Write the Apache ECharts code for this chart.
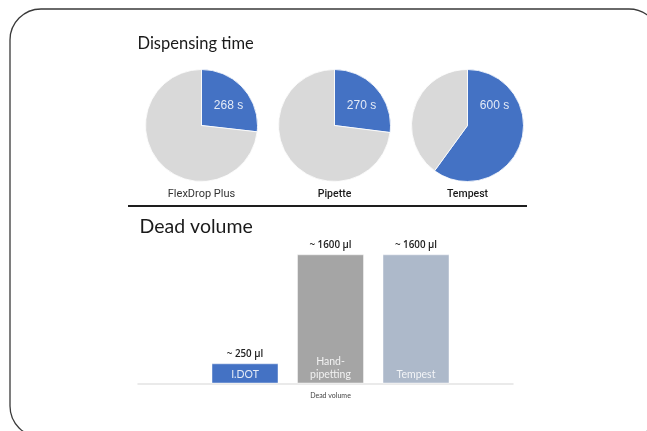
<!DOCTYPE html>
<html>
<head>
<meta charset="utf-8">
<script src="https://cdn.jsdelivr.net/npm/echarts@6/dist/echarts.min.js"></script>
<style>
  html, body { margin: 0; padding: 0; background: #ffffff; }
  #chart { width: 647px; height: 431px; }
</style>
</head>
<body>
<div id="chart"></div>
<script>
// Dispensing time per instrument (seconds) and the remaining part of each pie
const timeNames = ['FlexDrop Plus', 'Pipette', 'Tempest'];
const timeValues = [268, 270, 600];
const timeRest = [732, 730, 400];

// Dead volume per method (µl)
const volumeNames = ['I.DOT', 'Hand-pipetting', 'Tempest'];
const volumeValues = [250, 1600, 1600];
const volumeLabels = ['~ 250 µl', '~ 1600 µl', '~ 1600 µl'];

const BLUE = '#4472c4';
const PIE_GRAY = '#d9d9d9';
const barColors = [BLUE, '#a5a5a5', '#adb9ca'];

const pieCenters = [[201.5, 125.5], [334.5, 125.5], [467.5, 125.5]];
const nameFonts = [
  { fontFamily: 'Roboto', fontWeight: 'normal', color: '#333', fontSize: 11 },
  { fontFamily: 'Roboto', fontWeight: 500, color: '#1a1a1a', fontSize: 10.5 },
  { fontFamily: 'Roboto', fontWeight: 500, color: '#1a1a1a', fontSize: 10.5 }
];

const chart = echarts.init(document.getElementById('chart'), null, { renderer: 'canvas' });

const pieSeries = timeNames.map((name, i) => ({
  type: 'pie',
  center: pieCenters[i],
  radius: 56,
  startAngle: 90,
  clockwise: true,
  silent: true,
  animation: false,
  labelLine: { show: false },
  itemStyle: { borderColor: '#ffffff', borderWidth: 0.8 },
  // value labels sit on one common line in the upper right of each pie
  labelLayout: function () {
    return { x: pieCenters[i][0] + 27, y: 106, align: 'center', verticalAlign: 'middle' };
  },
  data: [
    {
      name: name,
      value: timeValues[i],
      itemStyle: { color: BLUE },
      label: {
        show: true,
        position: 'inner',
        formatter: '{c} s',
        color: 'rgba(255,255,255,0.85)',
        fontFamily: 'Liberation Sans',
        fontSize: 12
      }
    },
    {
      name: name + ' rest',
      value: timeRest[i],
      itemStyle: { color: PIE_GRAY },
      label: { show: false }
    }
  ]
}));

const titles = [
  {
    text: 'Dispensing time',
    left: 137.5, top: 35, padding: 0,
    textStyle: { fontFamily: 'Lato', fontWeight: 'normal', fontSize: 16.5, color: '#1a1a1a' }
  },
  {
    text: 'Dead volume',
    left: 139.5, top: 217, padding: 0,
    textStyle: { fontFamily: 'Lato', fontWeight: 'normal', fontSize: 19.5, color: '#1a1a1a' }
  }
].concat(timeNames.map((name, i) => ({
  text: name,
  left: pieCenters[i][0],
  top: 188.5,
  padding: 0,
  textAlign: 'center',
  textStyle: nameFonts[i]
})));

chart.setOption({
  animation: false,
  backgroundColor: '#ffffff',
  title: titles,
  graphic: [
    {
      type: 'rect',
      shape: { x: 10, y: 9, width: 650, height: 428, r: 31 },
      style: { fill: 'none', stroke: '#3a3a3a', lineWidth: 1.3 },
      silent: true
    },
    {
      type: 'line',
      shape: { x1: 128, y1: 206, x2: 527, y2: 206 },
      style: { stroke: '#1e1e1e', lineWidth: 2 },
      silent: true
    }
  ],
  grid: [
    { left: 202.25, width: 256.5, top: 254.3, bottom: 47.5 },
    { left: 138, right: 134, top: 254.3, bottom: 47.5 }
  ],
  xAxis: [
    {
      type: 'category',
      gridIndex: 0,
      data: volumeNames,
      axisLine: { show: false },
      axisTick: { show: false },
      axisLabel: { show: false },
      name: 'Dead volume',
      nameLocation: 'middle',
      nameGap: 9,
      nameTextStyle: { fontFamily: 'Lato', fontSize: 7, color: '#444' }
    },
    {
      type: 'value',
      gridIndex: 1,
      min: 0, max: 1,
      axisLine: { show: true, lineStyle: { color: '#e3e3e3', width: 1.5 } },
      axisTick: { show: false },
      axisLabel: { show: false },
      splitLine: { show: false }
    }
  ],
  yAxis: [
    { type: 'value', gridIndex: 0, min: 0, max: 1600, show: false },
    { type: 'value', gridIndex: 1, min: 0, max: 1, show: false }
  ],
  series: pieSeries.concat([
    {
      type: 'bar',
      xAxisIndex: 0, yAxisIndex: 0,
      barWidth: 67,
      z: 3,
      data: volumeValues.map((v, i) => ({
        value: v,
        itemStyle: { color: barColors[i], borderColor: 'rgba(255,255,255,0.45)', borderWidth: 1 }
      })),
      label: {
        show: true,
        position: 'top',
        distance: 4,
        formatter: p => volumeLabels[p.dataIndex],
        fontFamily: 'Open Sans',
        fontWeight: 600,
        fontSize: 9.8,
        color: '#222'
      }
    },
    {
      type: 'bar',
      xAxisIndex: 0, yAxisIndex: 0,
      barWidth: 67,
      barGap: '-100%',
      z: 4,
      silent: true,
      data: volumeValues,
      itemStyle: { color: 'rgba(0,0,0,0)' },
      label: {
        show: true,
        position: 'insideBottom',
        distance: 2,
        formatter: p => p.name.replace('-', '-\n'),
        fontFamily: 'Lato',
        fontSize: 10.5,
        lineHeight: 13,
        color: 'rgba(255,255,255,0.85)'
      }
    }
  ])
});
</script>
</body>
</html>
